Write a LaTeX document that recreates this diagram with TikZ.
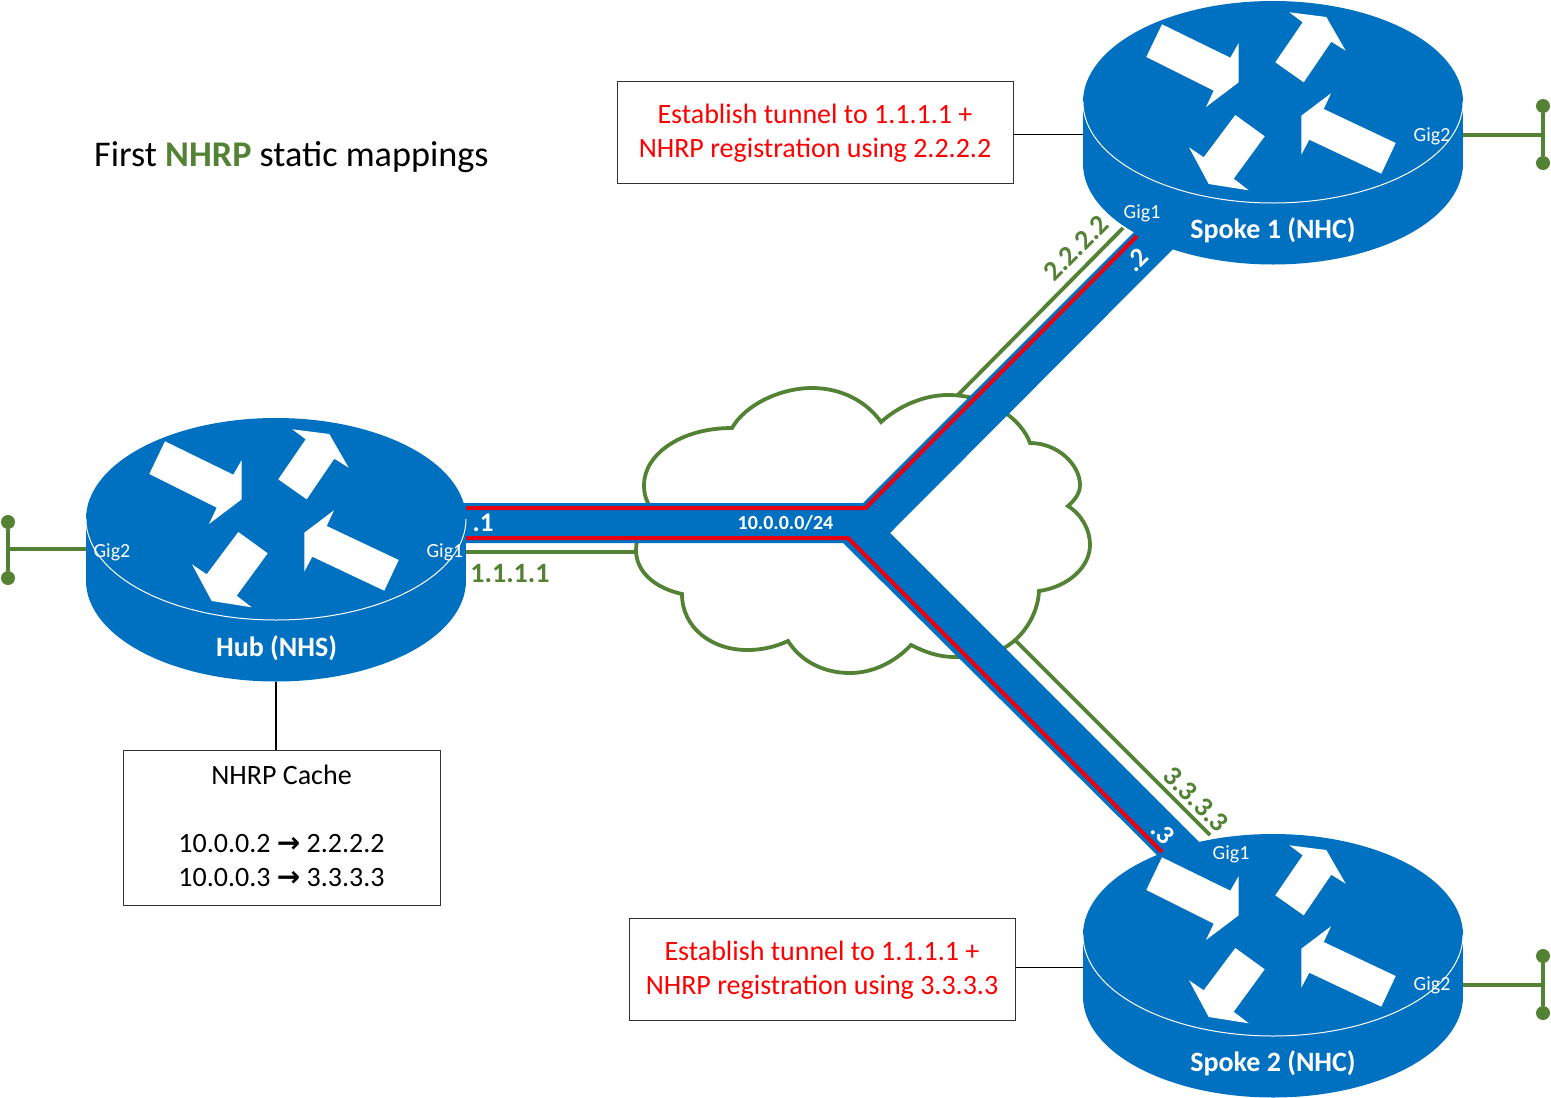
\documentclass[tikz,border=0pt]{standalone}
\usepackage{fontspec}
\setmainfont{Carlito}
\newfontfamily\arrowfont{DejaVu Sans}
\definecolor{routerblue}{HTML}{0070C0}
\definecolor{netgreen}{HTML}{548235}
\definecolor{tunnelred}{HTML}{E60012}
\newcommand{\fsz}[1]{\fontsize{#1}{#1}\selectfont}
\newcommand{\wideto}{{\arrowfont\bfseries\fontsize{28}{34}\selectfont→}}
\tikzset{
  greenline/.style={draw=netgreen,line width=3.8pt},
  dotend/.style={circle,fill=netgreen,inner sep=0pt,minimum size=14pt},
  redline/.style={draw=tunnelred,line width=4pt,line join=miter},
  blackline/.style={draw=black,line width=1.5pt},
  notebox/.style={draw=black!80,line width=1pt,fill=white,align=center,inner sep=0pt,font=\fontsize{28}{34}\selectfont},
  giglabel/.style={text=white,font=\fsz{20},inner sep=0pt},
  routername/.style={text=white,font=\bfseries\fsz{28},inner sep=0pt},
  subnetlabel/.style={text=white,font=\bfseries\fsz{20},inner sep=0pt},
  hostlabel/.style={text=white,font=\bfseries\fsz{27},inner sep=0pt},
  addrlabel/.style={text=netgreen,font=\bfseries\fsz{28},inner sep=0pt},
  pics/routerpic/.style={code={
    \fill[routerblue] (-190,0) rectangle (190,61.5);
    \fill[routerblue] (0,61.5) ellipse [x radius=190pt,y radius=101pt];
    \fill[routerblue] (0,0) ellipse [x radius=190pt,y radius=101pt];
    \draw[white,line width=1pt] (-190,0) arc [start angle=180,end angle=360,x radius=190pt,y radius=101pt];
    \fill[white] (-111,-77.7) -- (-42.7,-44.3) -- (-34.3,-59) -- (-34.3,-19.7) -- (-67,5) -- (-59.3,-11.3) -- (-126.7,-45) -- cycle;
    \fill[white] (2.3,-39.7) -- (29.7,-79.7) -- (16.3,-89.7) -- (53.3,-85) -- (72.7,-51.3) -- (58.3,-60.3) -- (30.7,-19.7) -- cycle;
    \fill[white] (-37.7,13) -- (-8.3,34.3) -- (-39.3,76.7) -- (-24.3,88.3) -- (-64.3,82) -- (-84,45.3) -- (-69.3,55.3) -- cycle;
    \fill[white] (122.7,41) -- (108.3,71.7) -- (36.3,37.7) -- (28.3,52.7) -- (28.3,13.7) -- (58,-8.7) -- (50.7,7) -- cycle;
    \coordinate (-left) at (-190,30);
    \coordinate (-right) at (190,30);
    \coordinate (-bottom) at (0,162.5);
  }}
}
\begin{document}
\begin{tikzpicture}[x=1pt,y=-1pt]
\useasboundingbox (0,0) rectangle (1551,1098);

\coordinate (hubg) at (466,552);
\coordinate (cloudg) at (640,552);
\coordinate (s1a) at (950,403);
\coordinate (s1b) at (1123,228);
\coordinate (s2a) at (1005,630);
\coordinate (s2b) at (1210,835);

\draw[greenline] (hubg) -- (cloudg);
\draw[greenline] (s1a) -- (s1b);
\draw[greenline] (s2a) -- (s2b);

\draw[draw=netgreen,line width=3.8pt,fill=white,line join=miter]
  (732,428) .. controls (745,405) and (780,388) .. (812,388)
  .. controls (842,388) and (867,402) .. (881,422)
  .. controls (900,405) and (925,395) .. (948,395)
  .. controls (990,395) and (1022,420) .. (1030,443)
  .. controls (1058,443) and (1080,465) .. (1080,485)
  .. controls (1080,493) and (1075,500) .. (1068,506)
  .. controls (1082,515) and (1090,530) .. (1090,545)
  .. controls (1090,567) and (1068,587) .. (1039,591)
  .. controls (1038,615) and (1022,640) .. (1000,650)
  .. controls (985,657) and (972,657) .. (955,657)
  .. controls (938,657) and (925,652) .. (911,645)
  .. controls (895,662) and (873,673) .. (850,673)
  .. controls (822,673) and (800,660) .. (788,641)
  .. controls (775,647) and (762,650) .. (747,650)
  .. controls (712,650) and (682,628) .. (682,594)
  .. controls (655,588) and (636,572) .. (636,550)
  .. controls (636,535) and (645,520) .. (648,503)
  .. controls (645,497) and (644,492) .. (644,485)
  .. controls (644,455) and (680,428) .. (732,428) -- cycle;

\fill[routerblue] (460,503) -- (863,503) -- (1140,226) -- (1175,247) -- (890,533)
  -- (1200,843) -- (1158,856) -- (843,543) -- (460,543) -- cycle;
\draw[redline] (466,508) -- (865.5,508) -- (1137,236);
\draw[redline] (466,538) -- (848,538) -- (1162,852);

\pic (hub) at (276,519) {routerpic};
\pic (spokeone) at (1273,102) {routerpic};
\pic (spoketwo) at (1273,935) {routerpic};

\node[routername] (hubname) at (276.5,648) {Hub (NHS)};
\node[routername] (s1name) at (1273,230) {Spoke 1 (NHC)};
\node[routername] (s2name) at (1273,1063) {Spoke 2 (NHC)};
\node[giglabel] (hubgigb) at (112,552) {Gig2};
\node[giglabel] (hubgiga) at (445,552) {Gig1};
\node[giglabel] (s1giga) at (1142,213) {Gig1};
\node[giglabel] (s1gigb) at (1432,136) {Gig2};
\node[giglabel] (s2giga) at (1231,854) {Gig1};
\node[giglabel] (s2gigb) at (1432,985) {Gig2};

\node[subnetlabel] (subnet) at (785.5,523) {10.0.0.0/24};
\node[hostlabel] (hostone) at (483,523) {.1};
\node[hostlabel,rotate=45] (hosttwo) at (1137,260) {.2};
\node[hostlabel,rotate=-45] (hostthree) at (1163,833) {.3};
\node[addrlabel] (addrone) at (510,573) {1.1.1.1};
\node[addrlabel,rotate=45] (addrtwo) at (1076,248) {2.2.2.2};
\node[addrlabel,rotate=-45] (addrthree) at (1196,799) {3.3.3.3};

\node[dotend] (hubdota) at (8,522) {};
\node[dotend] (hubdotb) at (8,578) {};
\coordinate (hubbar) at (8,549);
\draw[greenline] (hubdota) -- (hubdotb);
\draw[greenline] (hubbar) -- (86,549);
\node[dotend] (s1dota) at (1543,106) {};
\node[dotend] (s1dotb) at (1543,163) {};
\coordinate (s1bar) at (1543,135);
\draw[greenline] (s1dota) -- (s1dotb);
\draw[greenline] (1463,135) -- (s1bar);
\node[dotend] (s2dota) at (1543,956) {};
\node[dotend] (s2dotb) at (1543,1013) {};
\coordinate (s2bar) at (1543,985);
\draw[greenline] (s2dota) -- (s2dotb);
\draw[greenline] (1463,985) -- (s2bar);

\node[anchor=west,inner sep=0pt,font=\fsz{36.2}] (title) at (94,157) {First \textcolor{netgreen}{\textbf{NHRP}} static mappings};

\node[notebox,text=red,minimum width=396pt,minimum height=102pt] (noteone) at (815,132)
  {\rule{0pt}{22.5pt}Establish tunnel to 1.1.1.1 +\\NHRP registration using 2.2.2.2};
\node[notebox,text=red,minimum width=386pt,minimum height=102pt] (notetwo) at (822,969)
  {\rule{0pt}{22.5pt}Establish tunnel to 1.1.1.1 +\\NHRP registration using 3.3.3.3};
\node[notebox,minimum width=317pt,minimum height=155pt] (cache) at (281.5,827.5)
  {NHRP Cache\\[34pt]10.0.0.2 \wideto{} 2.2.2.2\\10.0.0.3 \wideto{} 3.3.3.3\\[-30pt]~};

\coordinate (s1edge) at (1083,134.5);
\coordinate (s2edge) at (1083,967.5);
\draw[blackline] (noteone.east |- s1edge) -- (s1edge);
\draw[blackline] (notetwo.east |- s2edge) -- (s2edge);
\draw[blackline] (hub-bottom) -- (hub-bottom |- cache.north);
\end{tikzpicture}
\end{document}
